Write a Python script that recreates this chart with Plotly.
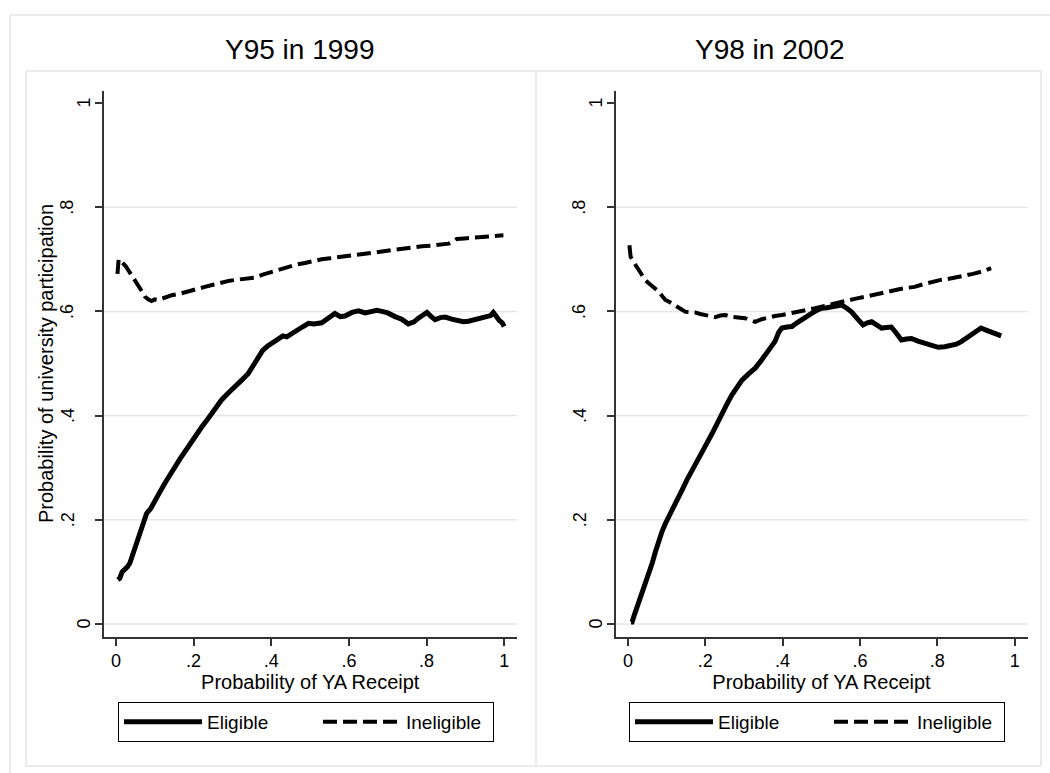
import plotly.graph_objects as go

# ---------------- data ----------------
panel_titles = ["Y95 in 1999", "Y98 in 2002"]
series_names = ["Eligible", "Ineligible"]
x_title = "Probability of YA Receipt"
y_title = "Probability of university participation"
x_tick_vals = [0, 0.2, 0.4, 0.6, 0.8, 1]
x_tick_text = ["0", ".2", ".4", ".6", ".8", "1"]
y_tick_vals = [0, 0.2, 0.4, 0.6, 0.8, 1]
y_tick_text = ["0", ".2", ".4", ".6", ".8", "1"]
grid_vals = [0, 0.2, 0.4, 0.6, 0.8]

elig95_x = [0.005, 0.010, 0.016, 0.023, 0.030, 0.036, 0.043, 0.049, 0.057, 0.066, 0.073, 0.079,
            0.090, 0.101, 0.113, 0.126, 0.139, 0.152, 0.165, 0.178, 0.191, 0.204, 0.221, 0.238,
            0.255, 0.272, 0.290, 0.307, 0.324, 0.341, 0.355, 0.367, 0.378, 0.390, 0.404, 0.418,
            0.430, 0.440, 0.453, 0.465, 0.480, 0.496, 0.510, 0.530, 0.545, 0.564, 0.578, 0.590,
            0.608, 0.625, 0.642, 0.659, 0.672, 0.685, 0.700, 0.719, 0.736, 0.753, 0.768, 0.779,
            0.790, 0.801, 0.812, 0.822, 0.835, 0.848, 0.865, 0.882, 0.895, 0.908, 0.925, 0.940,
            0.951, 0.965, 0.972, 0.980, 0.988, 0.995, 1.000]
elig95_y = [0.085, 0.088, 0.100, 0.104, 0.110, 0.117, 0.133, 0.148, 0.160, 0.180, 0.200, 0.212,
            0.222, 0.235, 0.253, 0.270, 0.287, 0.302, 0.317, 0.331, 0.346, 0.360, 0.378, 0.395,
            0.413, 0.430, 0.444, 0.455, 0.468, 0.481, 0.497, 0.510, 0.525, 0.533, 0.540, 0.546,
            0.553, 0.551, 0.558, 0.564, 0.570, 0.577, 0.576, 0.578, 0.586, 0.596, 0.590, 0.591,
            0.598, 0.601, 0.597, 0.599, 0.602, 0.600, 0.597, 0.590, 0.585, 0.576, 0.580, 0.587,
            0.592, 0.598, 0.590, 0.584, 0.588, 0.589, 0.585, 0.582, 0.580, 0.581, 0.584, 0.587,
            0.590, 0.592, 0.598, 0.588, 0.582, 0.578, 0.571]

inel95_x = [0.004, 0.005, 0.007, 0.012, 0.019, 0.026, 0.032, 0.040, 0.049, 0.056, 0.062, 0.069,
            0.075, 0.083, 0.092, 0.100, 0.109, 0.125, 0.144, 0.165, 0.187, 0.208, 0.229, 0.250,
            0.272, 0.293, 0.315, 0.337, 0.358, 0.380, 0.401, 0.423, 0.444, 0.466, 0.487, 0.509,
            0.530, 0.552, 0.573, 0.595, 0.616, 0.638, 0.659, 0.681, 0.702, 0.724, 0.745, 0.767,
            0.788, 0.810, 0.831, 0.857, 0.870, 0.878, 0.897, 0.917, 0.940, 0.960, 0.980, 0.998]
inel95_y = [0.672, 0.690, 0.700, 0.697, 0.692, 0.686, 0.679, 0.670, 0.660, 0.654, 0.647, 0.636,
            0.628, 0.623, 0.620, 0.623, 0.622, 0.627, 0.631, 0.634, 0.639, 0.643, 0.647, 0.651,
            0.655, 0.659, 0.661, 0.663, 0.665, 0.671, 0.676, 0.681, 0.685, 0.690, 0.693, 0.697,
            0.700, 0.702, 0.704, 0.707, 0.710, 0.712, 0.714, 0.716, 0.718, 0.720, 0.721, 0.723,
            0.725, 0.726, 0.728, 0.730, 0.735, 0.739, 0.740, 0.741, 0.742, 0.744, 0.745, 0.746]

elig98_x = [0.008, 0.011, 0.017, 0.024, 0.030, 0.037, 0.043, 0.050, 0.056, 0.063, 0.071, 0.080,
            0.088, 0.097, 0.105, 0.114, 0.127, 0.140, 0.153, 0.166, 0.179, 0.192, 0.205, 0.218,
            0.230, 0.243, 0.256, 0.269, 0.282, 0.295, 0.312, 0.329, 0.342, 0.355, 0.368, 0.380,
            0.390, 0.398, 0.411, 0.424, 0.437, 0.449, 0.462, 0.475, 0.488, 0.501, 0.514, 0.527,
            0.540, 0.553, 0.566, 0.578, 0.593, 0.608, 0.619, 0.630, 0.643, 0.656, 0.668, 0.681,
            0.694, 0.707, 0.720, 0.733, 0.750, 0.767, 0.785, 0.802, 0.819, 0.836, 0.849, 0.862,
            0.875, 0.888, 0.900, 0.913, 0.926, 0.939, 0.952, 0.965]
elig98_y = [0.004, 0.004, 0.018, 0.033, 0.046, 0.059, 0.072, 0.084, 0.100, 0.117, 0.138, 0.161,
            0.177, 0.193, 0.206, 0.219, 0.238, 0.257, 0.277, 0.296, 0.313, 0.331, 0.348, 0.366,
            0.385, 0.404, 0.422, 0.440, 0.454, 0.468, 0.480, 0.491, 0.503, 0.516, 0.529, 0.542,
            0.560, 0.568, 0.570, 0.571, 0.578, 0.583, 0.589, 0.596, 0.602, 0.606, 0.607, 0.609,
            0.610, 0.612, 0.606, 0.599, 0.586, 0.574, 0.578, 0.580, 0.574, 0.568, 0.569, 0.570,
            0.558, 0.545, 0.547, 0.548, 0.543, 0.539, 0.535, 0.531, 0.532, 0.534, 0.537, 0.542,
            0.548, 0.555, 0.561, 0.568, 0.564, 0.561, 0.557, 0.553]

inel98_x = [0.004, 0.005, 0.007, 0.013, 0.020, 0.028, 0.037, 0.045, 0.054, 0.067, 0.080, 0.088,
            0.097, 0.110, 0.123, 0.136, 0.149, 0.162, 0.174, 0.187, 0.200, 0.213, 0.226, 0.239,
            0.252, 0.265, 0.278, 0.290, 0.303, 0.316, 0.329, 0.346, 0.363, 0.380, 0.398, 0.420,
            0.441, 0.463, 0.484, 0.506, 0.527, 0.549, 0.570, 0.592, 0.613, 0.635, 0.656, 0.677,
            0.698, 0.720, 0.741, 0.763, 0.785, 0.806, 0.827, 0.849, 0.870, 0.892, 0.913, 0.926,
            0.939]
inel98_y = [0.727, 0.715, 0.705, 0.697, 0.689, 0.678, 0.667, 0.660, 0.654, 0.646, 0.638, 0.630,
            0.622, 0.617, 0.612, 0.605, 0.599, 0.599, 0.598, 0.595, 0.593, 0.590, 0.589, 0.592,
            0.593, 0.590, 0.589, 0.588, 0.587, 0.583, 0.580, 0.585, 0.589, 0.591, 0.593, 0.596,
            0.599, 0.602, 0.606, 0.610, 0.614, 0.618, 0.622, 0.625, 0.628, 0.632, 0.636, 0.639,
            0.642, 0.645, 0.647, 0.652, 0.657, 0.660, 0.662, 0.665, 0.668, 0.672, 0.676, 0.679,
            0.683]

# ---------------- styling / layout helpers ----------------
W, H = 1050, 773
FONT = "Liberation Sans, Arial, Helvetica, sans-serif"
AX_COL = "#333333"
GRID_COL = "#e6e6e6"
FRAME_COL = "#ebebeb"

def px_x(p):
    return p / W

def px_y(p):
    return 1 - p / H

fig = go.Figure()

panels = [
    dict(xa="x", ya="y", legend="legend", ex=elig95_x, ey=elig95_y, ix=inel95_x, iy=inel95_y),
    dict(xa="x2", ya="y2", legend="legend2", ex=elig98_x, ey=elig98_y, ix=inel98_x, iy=inel98_y),
]

for p in panels:
    fig.add_trace(go.Scatter(
        x=p["ex"], y=p["ey"], mode="lines", name=series_names[0],
        line=dict(color="black", width=5),
        xaxis=p["xa"], yaxis=p["ya"], legend=p["legend"], showlegend=True,
        legendwidth=106,
    ))
    fig.add_trace(go.Scatter(
        x=p["ix"], y=p["iy"], mode="lines", name=series_names[1],
        line=dict(color="black", width=4, dash="14px,6px"),
        xaxis=p["xa"], yaxis=p["ya"], legend=p["legend"], showlegend=True,
        legendwidth=82,
    ))

x_range = [-0.032, 1.033]
y_range = [-0.025, 1.023]
y_dom = [px_y(637), px_y(91)]

common_x = dict(
    range=x_range, tickmode="array", tickvals=x_tick_vals, ticktext=x_tick_text,
    showline=True, linecolor=AX_COL, linewidth=1.5, ticks="outside", ticklen=7,
    tickwidth=1.5, tickcolor=AX_COL, showgrid=False, zeroline=False,
    tickfont=dict(family=FONT, size=18, color="black"),
    title=dict(text=x_title, font=dict(family=FONT, size=20, color="black"), standoff=0),
)
common_y = dict(
    range=y_range, tickmode="array", tickvals=y_tick_vals, showticklabels=False,
    showline=True, linecolor=AX_COL, linewidth=1.5, ticks="outside", ticklen=7,
    tickwidth=1.5, tickcolor=AX_COL, showgrid=False, zeroline=False, domain=y_dom,
)

legend_common = dict(y=px_y(702), xanchor="left", yanchor="top",
                     orientation="h", bordercolor="black", borderwidth=1, bgcolor="white",
                     font=dict(family=FONT, size=19, color="black"),
                     itemwidth=78, traceorder="normal")

fig.update_layout(
    width=W, height=H, margin=dict(l=0, r=0, t=0, b=0),
    paper_bgcolor="white", plot_bgcolor="white",
    font=dict(family=FONT, color="black"),
    xaxis=dict(common_x, domain=[px_x(103.5), px_x(517)], anchor="y"),
    yaxis=dict(common_y, anchor="x"),
    xaxis2=dict(common_x, domain=[px_x(615.5), px_x(1027.5)], anchor="y2"),
    yaxis2=dict(common_y, anchor="x2"),
    legend=dict(legend_common, x=px_x(118)),
    legend2=dict(legend_common, x=px_x(629)),
    showlegend=True,
)

shapes = []
# outer frame and panel frames (decoration)
shapes.append(dict(type="rect", xref="paper", yref="paper", x0=px_x(10), x1=px_x(1070),
                   y0=px_y(790), y1=px_y(15), line=dict(color=FRAME_COL, width=2), layer="below"))
shapes.append(dict(type="rect", xref="paper", yref="paper", x0=px_x(26), x1=px_x(536),
                   y0=px_y(766), y1=px_y(71), line=dict(color=FRAME_COL, width=2), layer="below"))
shapes.append(dict(type="rect", xref="paper", yref="paper", x0=px_x(536), x1=px_x(1041),
                   y0=px_y(766), y1=px_y(71), line=dict(color=FRAME_COL, width=2), layer="below"))
# gridlines
for xa, ya in [("x", "y"), ("x2", "y2")]:
    for g in grid_vals:
        shapes.append(dict(type="line", xref=f"{xa} domain", yref=ya, x0=0, x1=1, y0=g, y1=g,
                           line=dict(color=GRID_COL, width=1.5), layer="below"))
fig.update_layout(shapes=shapes)

annotations = []
title_pos = [299, 769]
for t, cx in zip(panel_titles, title_pos):
    annotations.append(dict(text=t, xref="paper", yref="paper", x=px_x(cx), y=px_y(50),
                            xanchor="center", yanchor="middle", showarrow=False,
                            font=dict(family=FONT, size=28, color="black")))
# y tick labels (rotated, Stata-like placement)
for xa, ya in [("x", "y"), ("x2", "y2")]:
    for v, lab in zip(y_tick_vals, y_tick_text):
        shift = -20 if not lab.startswith(".") else -36
        annotations.append(dict(text=lab, xref=f"{xa} domain", yref=ya, x=0, y=v,
                                xshift=shift, xanchor="center", yanchor="middle",
                                textangle=-90, showarrow=False,
                                font=dict(family=FONT, size=18, color="black")))
# y axis title (left panel only)
annotations.append(dict(text=y_title, xref="paper", yref="paper", x=px_x(46), y=px_y(364),
                        xanchor="center", yanchor="middle", textangle=-90, showarrow=False,
                        font=dict(family=FONT, size=20, color="black")))
fig.update_layout(annotations=annotations)

fig.write_html("out.html")
